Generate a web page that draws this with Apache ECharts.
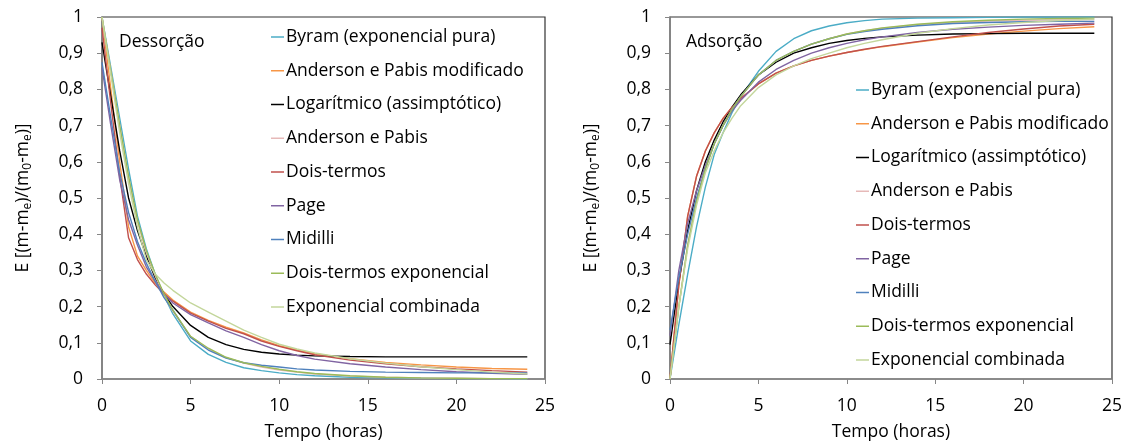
<!DOCTYPE html>
<html>
<head>
<meta charset="utf-8">
<script src="https://cdn.jsdelivr.net/npm/echarts@6/dist/echarts.min.js"></script>
<style>
html,body{margin:0;padding:0;background:#fff;}
#chart{width:1125px;height:446px;}
</style>
</head>
<body>
<div id="chart"></div>
<script>
// ---- data ----
const seriesNames = [
  "Byram (exponencial pura)",
  "Anderson e Pabis modificado",
  "Logarítmico (assimptótico)",
  "Anderson e Pabis",
  "Dois-termos",
  "Page",
  "Midilli",
  "Dois-termos exponencial",
  "Exponencial combinada"
];
const seriesColors = ["#4BACC6","#F79646","#000000","#E6B9B8","#C0504D","#8064A2","#4F81BD","#9BBB59","#C3D69B"];

const tempo = [0,0.5,1,1.5,2,2.5,3,3.5,4,5,6,7,8,9,10,11,12,14,16,18,20,22,24];
const xTicks = [0,5,10,15,20,25];
const yTicks = [0,0.1,0.2,0.3,0.4,0.5,0.6,0.7,0.8,0.9,1];

// Dessorção
const desByram      = [1.00,0.86,0.72,0.58,0.45,0.36,0.29,0.23,0.18,0.105,0.068,0.046,0.031,0.023,0.017,0.012,0.009,0.005,0.003,0.002,0.001,0.001,0.000];
const desAPmod      = [1.00,0.80,0.60,0.42,0.34,0.30,0.265,0.24,0.218,0.185,0.162,0.143,0.127,0.108,0.092,0.080,0.070,0.056,0.046,0.039,0.033,0.029,0.027];
const desLog        = [0.93,0.78,0.63,0.50,0.41,0.34,0.28,0.235,0.20,0.148,0.115,0.095,0.082,0.074,0.069,0.066,0.064,0.062,0.061,0.061,0.061,0.061,0.061];
const desAP         = [1.00,0.85,0.70,0.555,0.435,0.35,0.285,0.23,0.187,0.117,0.083,0.059,0.044,0.033,0.025,0.019,0.014,0.008,0.005,0.003,0.002,0.001,0.001];
const desDoisTermos = [0.97,0.76,0.56,0.39,0.33,0.29,0.26,0.235,0.215,0.182,0.160,0.140,0.125,0.105,0.090,0.078,0.067,0.052,0.042,0.034,0.028,0.023,0.019];
const desPage       = [0.86,0.70,0.55,0.44,0.37,0.31,0.27,0.235,0.21,0.178,0.155,0.133,0.115,0.095,0.078,0.065,0.055,0.042,0.033,0.026,0.020,0.016,0.013];
const desMidilli    = [0.875,0.72,0.57,0.46,0.38,0.32,0.27,0.225,0.19,0.115,0.080,0.058,0.045,0.038,0.033,0.028,0.025,0.021,0.019,0.018,0.017,0.017,0.017];
const desDTExp      = [1.00,0.85,0.70,0.56,0.44,0.355,0.29,0.235,0.19,0.118,0.085,0.060,0.045,0.035,0.027,0.020,0.015,0.009,0.005,0.003,0.002,0.001,0.001];
const desExpComb    = [1.00,0.84,0.68,0.54,0.42,0.33,0.29,0.265,0.245,0.210,0.185,0.160,0.135,0.115,0.096,0.083,0.072,0.056,0.044,0.034,0.026,0.019,0.014];

// Adsorção
const adsByram      = [0.00,0.15,0.29,0.42,0.53,0.62,0.68,0.735,0.78,0.85,0.905,0.94,0.962,0.975,0.984,0.990,0.994,0.997,0.998,0.999,1.000,1.000,1.000];
const adsAPmod      = [0.00,0.26,0.45,0.56,0.63,0.68,0.72,0.75,0.775,0.815,0.845,0.865,0.88,0.892,0.902,0.910,0.918,0.931,0.943,0.953,0.961,0.968,0.973];
const adsLog        = [0.095,0.27,0.41,0.52,0.60,0.66,0.71,0.75,0.785,0.84,0.875,0.90,0.915,0.927,0.935,0.941,0.945,0.950,0.953,0.954,0.955,0.955,0.955];
const adsAP         = [0.00,0.20,0.37,0.49,0.58,0.65,0.70,0.745,0.78,0.84,0.88,0.905,0.925,0.94,0.953,0.962,0.969,0.979,0.985,0.989,0.991,0.992,0.993];
const adsDoisTermos = [0.00,0.26,0.45,0.56,0.63,0.68,0.72,0.75,0.775,0.815,0.845,0.865,0.88,0.892,0.902,0.911,0.919,0.932,0.945,0.957,0.967,0.975,0.980];
const adsPage       = [0.12,0.30,0.43,0.52,0.59,0.65,0.70,0.74,0.77,0.82,0.855,0.88,0.90,0.915,0.927,0.937,0.945,0.957,0.966,0.972,0.977,0.980,0.983];
const adsMidilli    = [0.135,0.28,0.40,0.50,0.58,0.65,0.70,0.745,0.78,0.84,0.88,0.905,0.925,0.94,0.952,0.960,0.966,0.976,0.982,0.985,0.987,0.988,0.988];
const adsDTExp      = [0.00,0.20,0.37,0.49,0.58,0.65,0.70,0.745,0.78,0.84,0.88,0.905,0.925,0.94,0.953,0.962,0.970,0.980,0.987,0.991,0.994,0.996,0.997];
const adsExpComb    = [0.00,0.20,0.36,0.48,0.57,0.63,0.68,0.72,0.755,0.805,0.84,0.865,0.885,0.90,0.915,0.927,0.937,0.955,0.968,0.978,0.985,0.990,0.994];

const desData = [desByram,desAPmod,desLog,desAP,desDoisTermos,desPage,desMidilli,desDTExp,desExpComb];
const adsData = [adsByram,adsAPmod,adsLog,adsAP,adsDoisTermos,adsPage,adsMidilli,adsDTExp,adsExpComb];

// ---- chart ----
const FONT = 'Open Sans';
const FS = 17.5;
const chart = echarts.init(document.getElementById('chart'), null, {renderer:'canvas'});

function pairs(vals){ return tempo.map((t,i)=>[t, vals[i]]); }

const series = [];
[desData, adsData].forEach((set, g) => {
  set.forEach((vals, i) => {
    series.push({
      name: seriesNames[i],
      type: 'line',
      xAxisIndex: g, yAxisIndex: g,
      data: pairs(vals),
      showSymbol: false, symbol: 'none',
      smooth: false,
      lineStyle: {color: seriesColors[i], width: 1.4},
      itemStyle: {color: seriesColors[i]},
      animation: false
    });
  });
});

const yName = 'E [(m-m{s|e})/(m{s|0}-m{s|e})]';
const nameRich = {s: {fontSize: 12, fontFamily: FONT, color: '#000', verticalAlign: 'bottom', padding: [9,0,0,0]}};

function xAxis(g){
  return {
    gridIndex: g, type: 'value', min: 0, max: 25, interval: 5,
    name: 'Tempo (horas)', nameLocation: 'middle', nameGap: 44,
    nameTextStyle: {fontFamily: FONT, fontSize: FS, color: '#000'},
    axisLine: {show: true, lineStyle: {color: '#868686', width: 1.5}},
    axisTick: {show: true, length: 5, lineStyle: {color: '#868686'}},
    axisLabel: {fontFamily: FONT, fontSize: FS, color: '#000', margin: 18},
    splitLine: {show: false}
  };
}
function yAxis(g){
  return {
    gridIndex: g, type: 'value', min: 0, max: 1, interval: 0.1,
    name: yName, nameLocation: 'middle', nameGap: 68, nameRotate: 90,
    nameTextStyle: {fontFamily: FONT, fontSize: FS, color: '#000', rich: nameRich},
    axisLine: {show: true, lineStyle: {color: '#868686', width: 1.5}},
    axisTick: {show: true, length: 5, lineStyle: {color: '#868686'}},
    axisLabel: {fontFamily: FONT, fontSize: FS, color: '#000', margin: 19,
      formatter: v => String(Math.round(v*10)/10).replace('.', ',')},
    splitLine: {show: false}
  };
}

function legend(left, top){
  return {
    orient: 'vertical', left: left, top: top, padding: 0,
    data: seriesNames,
    icon: 'rect', itemWidth: 13, itemHeight: 1.5, itemGap: 13.75,
    textStyle: {fontFamily: FONT, fontSize: FS, color: '#000', lineHeight: 20, padding: [0,0,0,-3]},
    selectedMode: false
  };
}

chart.setOption({
  animation: false,
  backgroundColor: '#fff',
  title: [
    {text: 'Dessorção', left: 119, top: 33, padding: 0, textStyle: {fontFamily: FONT, fontSize: FS, fontWeight: 'normal', color: '#000'}},
    {text: 'Adsorção', left: 686, top: 33, padding: 0, textStyle: {fontFamily: FONT, fontSize: FS, fontWeight: 'normal', color: '#000'}}
  ],
  grid: [
    {left: 102, top: 17, width: 443, height: 365, show: true, borderColor: '#333', borderWidth: 1.2, backgroundColor: 'transparent'},
    {left: 670, top: 17, width: 442, height: 364, show: true, borderColor: '#333', borderWidth: 1.2, backgroundColor: 'transparent'}
  ],
  legend: [legend(271, 27), legend(856, 80)],
  xAxis: [xAxis(0), xAxis(1)],
  yAxis: [yAxis(0), yAxis(1)],
  series: series
});
</script>
</body>
</html>
